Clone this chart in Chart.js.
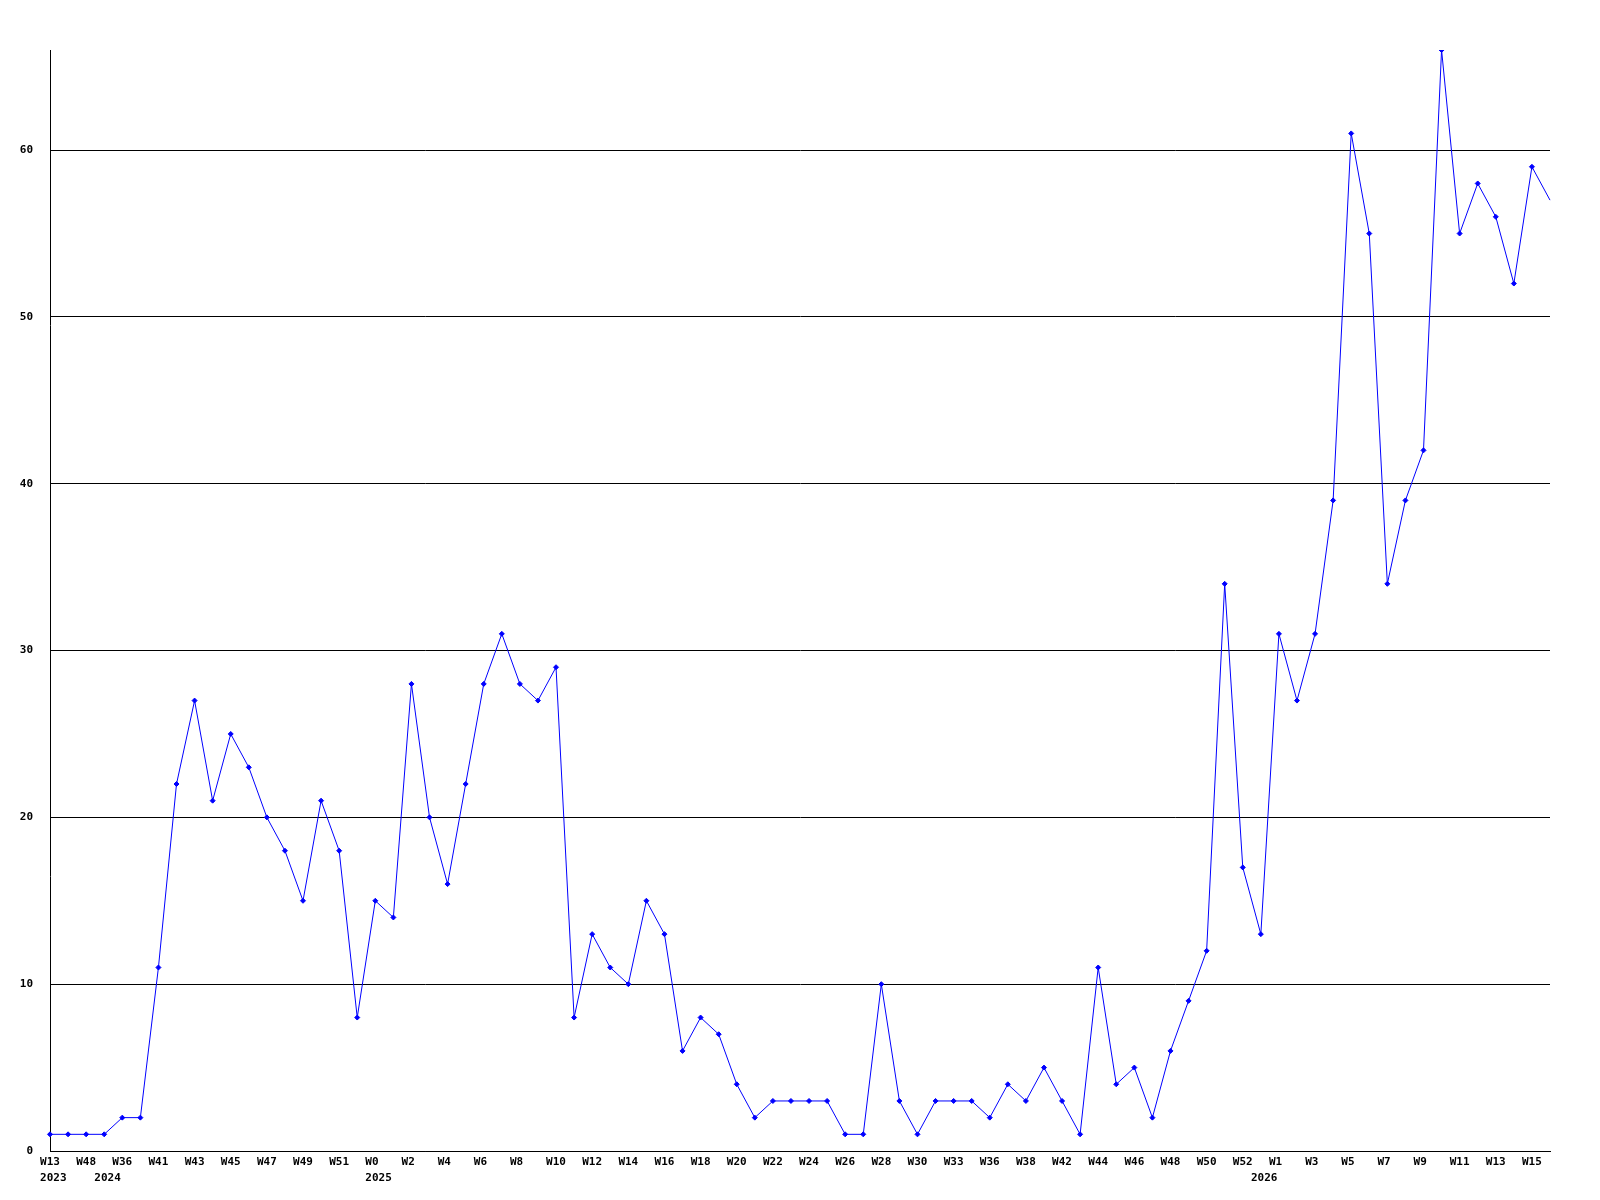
<!DOCTYPE html>
<html>
<head>
<meta charset="utf-8">
<script src="https://cdn.jsdelivr.net/npm/chart.js@4/dist/chart.umd.min.js"></script>
<style>
html,body{margin:0;padding:0;background:#fff;}
#wrap{width:1600px;height:1200px;}
</style>
</head>
<body>
<div id="wrap"><canvas id="c" width="1600" height="1200"></canvas></div>
<script>
// Week categories (odd-index labels are not shown on the axis)
const weeks = [
  'W13','W30','W48','W1','W36','W38','W41','W42','W43','W44',
  'W45','W46','W47','W48','W49','W50','W51','W52','W0','W1',
  'W2','W3','W4','W5','W6','W7','W8','W9','W10','W11',
  'W12','W13','W14','W15','W16','W17','W18','W19','W20','W21',
  'W22','W23','W24','W25','W26','W27','W28','W29','W30','W31',
  'W33','W34','W36','W37','W38','W40','W42','W43','W44','W45',
  'W46','W47','W48','W49','W50','W51','W52','W0','W1','W2',
  'W3','W4','W5','W6','W7','W8','W9','W10','W11','W12',
  'W13','W14','W15','W16'
];
const yearStartIndex = [0, 3, 18, 67];
const yearNames = ['2023', '2024', '2025', '2026'];
const counts = [
  1,1,1,1,2,2,11,22,27,21,
  25,23,20,18,15,21,18,8,15,14,
  28,20,16,22,28,31,28,27,29,8,
  13,11,10,15,13,6,8,7,4,2,
  3,3,3,3,1,1,10,3,1,3,
  3,3,2,4,3,5,3,1,11,4,
  5,2,6,9,12,34,17,13,31,27,
  31,39,61,55,34,39,42,66,55,58,
  56,52,59,57
];
const yTickValues = [0, 10, 20, 30, 40, 50, 60];
const yMax = 66;

const font = {family: '"DejaVu Sans Mono", monospace', size: 11, weight: 'bold', lineHeight: 1.45};

new Chart(document.getElementById('c'), {
  type: 'line',
  data: {
    labels: weeks,
    datasets: [{
      data: counts,
      borderColor: '#0000ff',
      backgroundColor: '#0000ff',
      borderWidth: 1,
      tension: 0,
      fill: false,
      pointStyle: 'rectRot',
      pointRadius: counts.map((v, i) => i === counts.length - 1 ? 0 : 2.5),
      pointBorderWidth: 1,
      pointBorderColor: '#0000ff',
      pointBackgroundColor: '#0000ff'
    }]
  },
  options: {
    responsive: false,
    animation: false,
    events: [],
    layout: {padding: {top: 50, right: 50, left: 0, bottom: 0}},
    plugins: {legend: {display: false}, tooltip: {enabled: false}, title: {display: false}},
    scales: {
      x: {
        type: 'category',
        offset: false,
        grid: {display: false, drawTicks: false},
        border: {display: true, color: '#000', width: 1},
        ticks: {
          autoSkip: false,
          maxRotation: 0,
          minRotation: 0,
          padding: 3,
          color: '#000',
          font: font,
          callback: function(value, index) {
            const yi = yearStartIndex.indexOf(index);
            const wk = index % 2 === 0 ? weeks[index].padEnd(3, ' ') : '';
            if (yi >= 0) return [wk, ' ' + yearNames[yi]];
            return wk;
          }
        },
        afterFit: function(scale) { scale.height = 49; }
      },
      y: {
        min: 0,
        max: yMax,
        grid: {color: '#000', lineWidth: 1, drawTicks: false},
        border: {display: true, color: '#000', width: 1},
        ticks: {
          padding: 17,
          color: '#000',
          font: font,
          stepSize: 10
        },
        afterBuildTicks: function(scale) {
          scale.ticks = yTickValues.map(v => ({value: v}));
        },
        afterFit: function(scale) { scale.width = 50; }
      }
    }
  }
});
</script>
</body>
</html>
